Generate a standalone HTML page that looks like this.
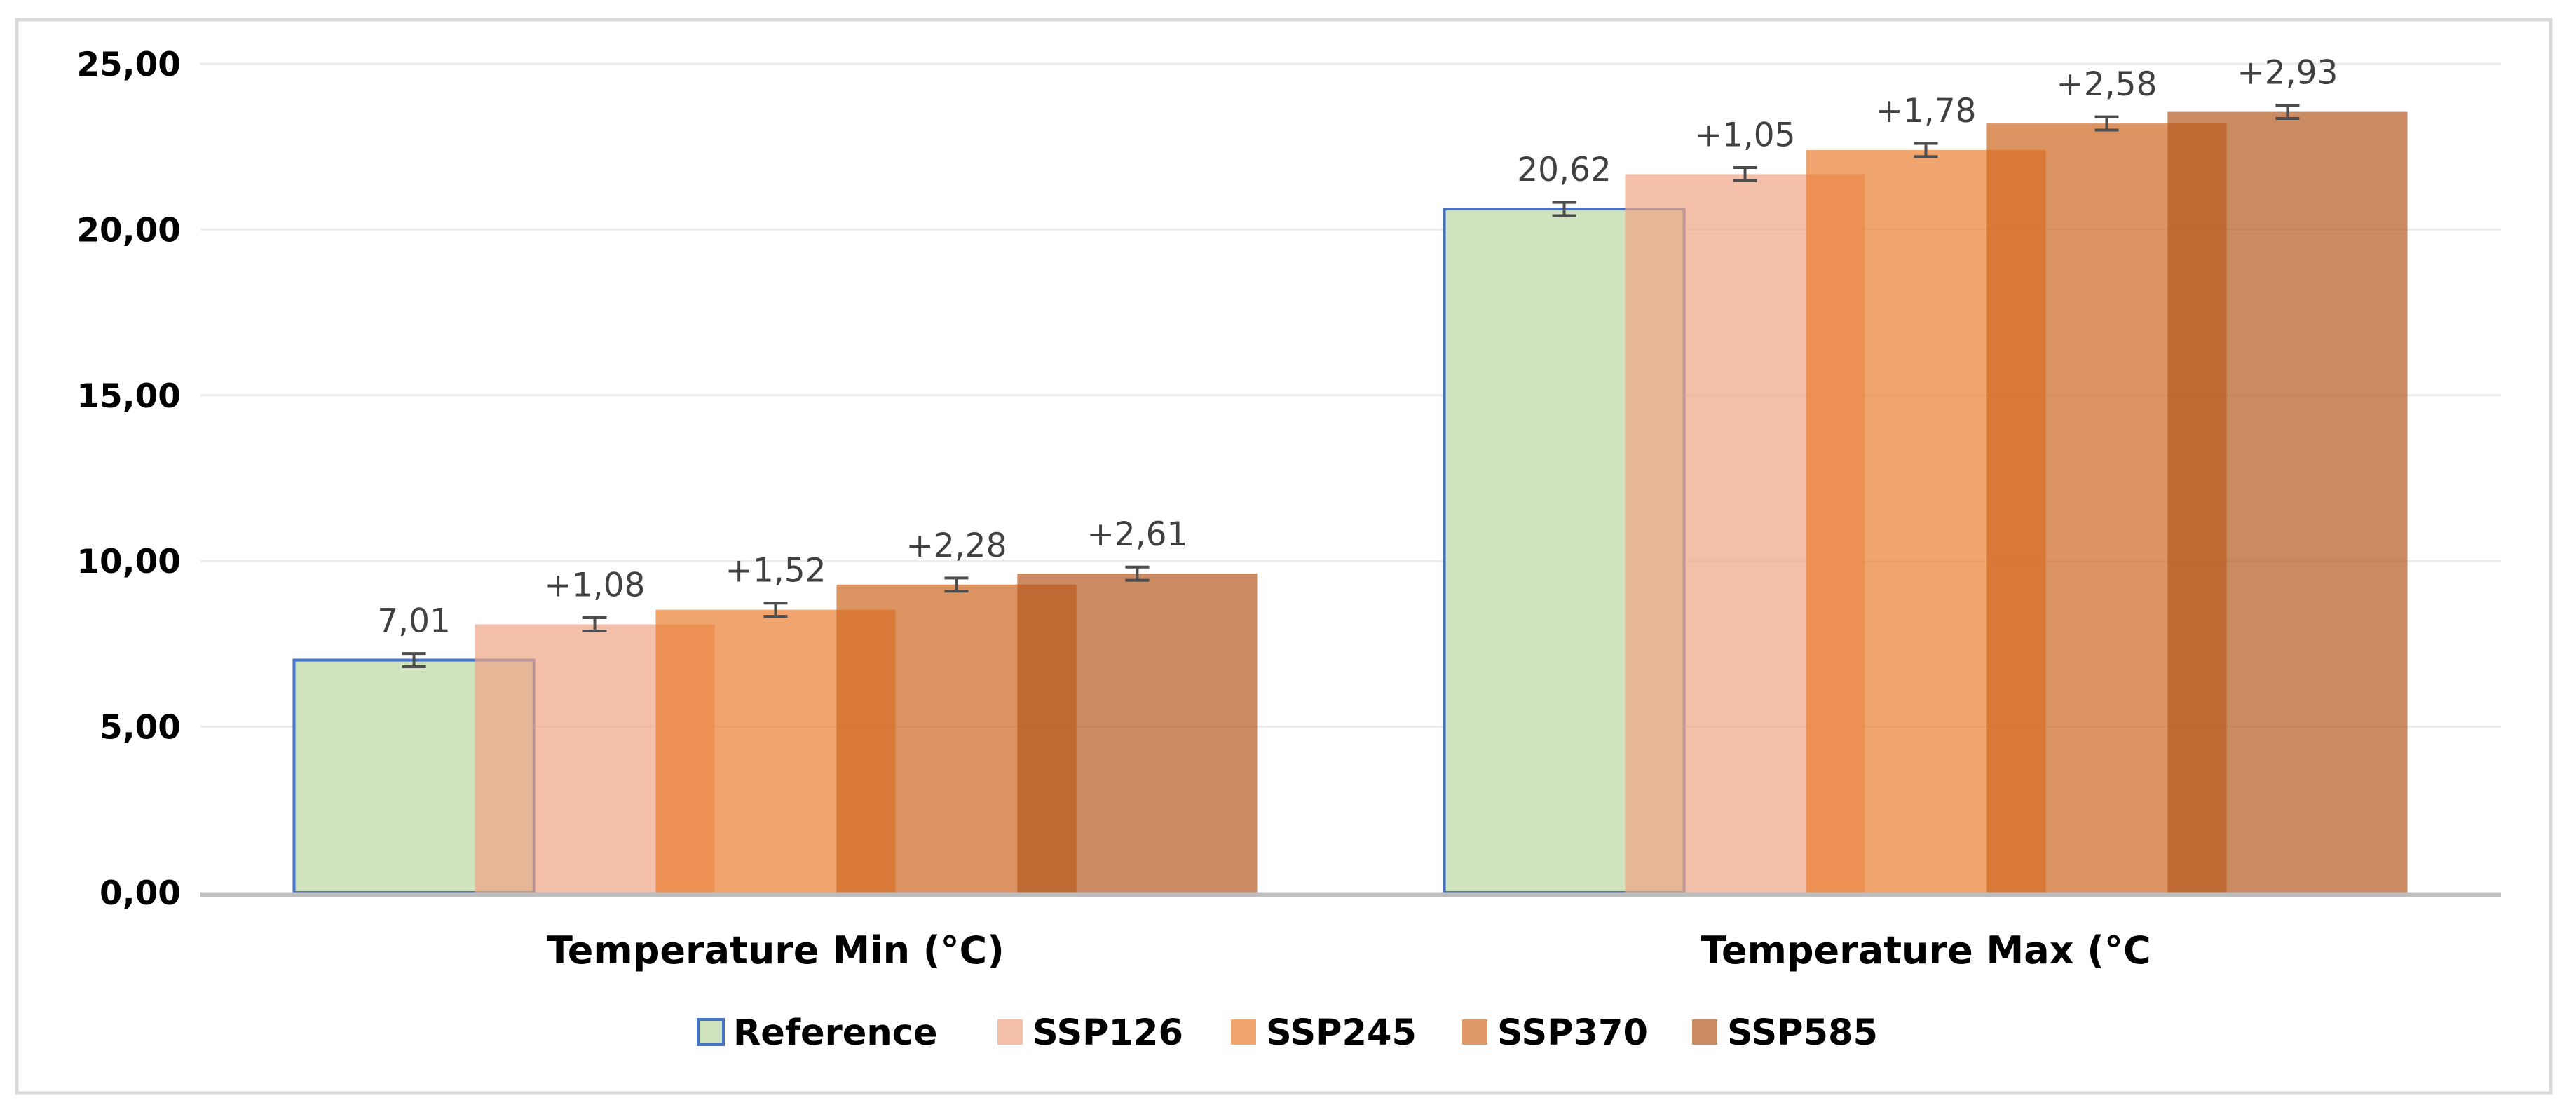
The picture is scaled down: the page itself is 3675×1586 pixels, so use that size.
<!DOCTYPE html>
<html><head><meta charset="utf-8"><style>
html,body{margin:0;padding:0;background:#fff}
svg{display:block}
</style></head><body>
<svg id="chart" width="3675" height="1586" xmlns="http://www.w3.org/2000/svg">
<rect x="24" y="28" width="3615" height="1531" fill="#fff" stroke="#d9d9d9" stroke-width="5"/>
<g id="grid"></g><g id="bars"></g><g id="labels"></g><g id="legend"></g>
</svg>
<script>
const categories = ["Temperature Min (°C)", "Temperature Max (°C"];
const seriesNames = ["Reference", "SSP126", "SSP245", "SSP370", "SSP585"];
const refValues = [7.01, 20.62];
const ssp126Values = [8.09, 21.67];
const ssp245Values = [8.53, 22.40];
const ssp370Values = [9.29, 23.20];
const ssp585Values = [9.62, 23.55];
const valueLabels = [["7,01","+1,08","+1,52","+2,28","+2,61"],["20,62","+1,05","+1,78","+2,58","+2,93"]];
const errorValues = [0.2, 0.2];
const yTicks = [0, 5, 10, 15, 20, 25];
const yTickLabels = ["0,00","5,00","10,00","15,00","20,00","25,00"];

const NS = "http://www.w3.org/2000/svg";
const X0 = 286, X1 = 3568, Y0 = 1273, Ytop = 91, YMAX = 25;
const y = v => Y0 - (v / YMAX) * (Y0 - Ytop);
const catW = (X1 - X0) / categories.length;
const barW = catW * 0.2085, step = catW * 0.1572;
const barX = (c, s) => X0 + catW * c + catW / 2 - (step * 4 + barW) / 2 + step * s;
const fills = ["#cfe3bf", "#f0a485", "#ea7f31", "#cf6721", "#b4591f"];
const opac = [1, 0.7, 0.7, 0.7, 0.7];
const legendFills = ["#cfe3bf", "#f4bfa9", "#f0a56e", "#df996a", "#cb8b62"];
const all = [refValues, ssp126Values, ssp245Values, ssp370Values, ssp585Values];
function mk(tag, attrs, parent){const e=document.createElementNS(NS,tag);for(const k in attrs)e.setAttribute(k,attrs[k]);parent.appendChild(e);return e;}
const grid=document.getElementById('grid'),bars=document.getElementById('bars'),labels=document.getElementById('labels'),legend=document.getElementById('legend');
yTicks.forEach((t,i)=>{
  if(t>0){const l=mk('line',{x1:X0,x2:X1,y1:y(t),y2:y(t),stroke:'#ececec','stroke-width':3},grid);
  
  }
  const tx=mk('text',{x:258,y:y(t)+17,'text-anchor':'end','font-family':'DejaVu Sans, sans-serif','font-weight':'bold','font-size':47,fill:'#000'},grid);
  tx.textContent=yTickLabels[i];
  
  
});
categories.forEach((c,ci)=>{
  all.forEach((vals,si)=>{
    const x=barX(ci,si), v=vals[ci];
    const r=mk('rect',{x:x,y:y(v),width:barW,height:Y0-y(v),fill:fills[si],'fill-opacity':opac[si]},bars);
    if(si===0){r.setAttribute('stroke','#4472c4');r.setAttribute('stroke-width',4);}
    
    
  });
});
categories.forEach((c,ci)=>{
  all.forEach((vals,si)=>{
    const cx=barX(ci,si)+barW/2, v=vals[ci], e=errorValues[ci];
    const g=mk('g',{stroke:'#4d4d4d','stroke-width':4},labels);
    
    
    mk('line',{x1:cx,x2:cx,y1:y(v+e),y2:y(v-e)},g);
    mk('line',{x1:cx-17,x2:cx+17,y1:y(v+e),y2:y(v+e)},g);
    mk('line',{x1:cx-17,x2:cx+17,y1:y(v-e),y2:y(v-e)},g);
    const t=mk('text',{x:cx,y:y(v)-40,'text-anchor':'middle','font-family':'DejaVu Sans, sans-serif','font-size':47,fill:'#404040'},labels);
    t.textContent=valueLabels[ci][si];
    
    
  });
  const ct=mk('text',{x:X0+catW*ci+catW/2,y:1374,'text-anchor':'middle','font-family':'DejaVu Sans, sans-serif','font-weight':'bold','font-size':54,fill:'#000'},labels);
  ct.textContent=c;
  
  
});
const ax=mk('line',{x1:X0,x2:X1,y1:Y0+3,y2:Y0+3,stroke:'#bfbfbf','stroke-width':7},labels);


const legX=[996,1423,1756,2086,2414];
seriesNames.forEach((n,i)=>{
  const g=mk('g',{},legend);
  
  
  const sq=mk('rect',{x:legX[i],y:1454,width:36,height:36,fill:legendFills[i]},g);
  if(i===0){sq.setAttribute('stroke','#4472c4');sq.setAttribute('stroke-width',4);}
  const t=mk('text',{x:legX[i]+50,y:1490,'font-family':'DejaVu Sans, sans-serif','font-weight':'bold','font-size':51,fill:'#000'},g);
  t.textContent=n;
});
</script>
</body></html>
